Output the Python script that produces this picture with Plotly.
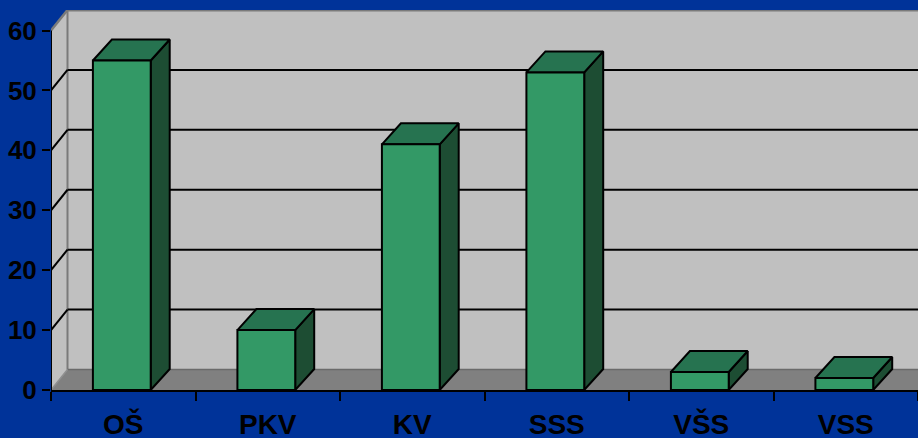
import plotly.graph_objects as go

categories = ["OŠ", "PKV", "KV", "SSS", "VŠS", "VSS"]
values = [55, 10, 41, 53, 3, 2]
y_ticks = [0, 10, 20, 30, 40, 50, 60]

# ---- geometry / style constants (pixels of the 918x438 canvas) ----
W, H = 918, 438
L, R, B, T = 51, 918, 390, 10
plot_w = R - L
plot_h = B - T
n = len(categories)
pxu = plot_w / n                      # px per x unit
WALL_DX_PX, WALL_DY_PX = 16.5, 20.5
BAR_DX_PX, BAR_DY_PX = 19.0, 21.0
YTOP = 60
YMAX = YTOP / (1 - WALL_DY_PX / plot_h)
pyu = plot_h / YMAX
wdx, wdy = WALL_DX_PX / pxu, WALL_DY_PX / pyu
bdx, bdy = BAR_DX_PX / pxu, BAR_DY_PX / pyu
BAR_OFF, BAR_W = 0.29, 0.40

BG = "#003399"
BAND = "#002e8e"
WALL = "#c0c0c0"
FLOOR = "#808080"
EDGE = "#7a7a7a"
FRONT = "#339966"
TOP = "#267350"
SIDE = "#1d4d33"
FONT = "Liberation Sans Narrow, Arial Narrow, Liberation Sans, Arial, sans-serif"

fig = go.Figure()

shapes = []
# subtle darker diagonal band at the bottom right of the slide background
shapes.append(dict(type="path", xref="paper", yref="paper",
                   path=f"M {627/W},0 L 1,{1-392/H} L 1,0 Z",
                   fillcolor=BAND, line=dict(width=0), layer="below"))

def poly(pts, fill, line_color=None, lw=0):
    d = "M " + " L ".join(f"{x},{y}" for x, y in pts) + " Z"
    shapes.append(dict(type="path", path=d, xref="x", yref="y", fillcolor=fill,
                       line=dict(color=line_color or fill, width=lw), layer="below"))
def seg(x0, y0, x1, y1, color, lw):
    shapes.append(dict(type="line", x0=x0, y0=y0, x1=x1, y1=y1, xref="x", yref="y",
                       line=dict(color=color, width=lw), layer="below"))

# walls and floor
poly([(0, 0), (wdx, wdy), (wdx, YMAX), (0, YTOP)], WALL)
poly([(wdx, wdy), (n, wdy), (n, YMAX), (wdx, YMAX)], WALL)
poly([(0, 0), (n, 0), (n, wdy), (wdx, wdy)], FLOOR)
# wall edges
seg(wdx, wdy, wdx, YMAX, EDGE, 2)
seg(wdx, YMAX, n, YMAX, EDGE, 3)
seg(0, YTOP, wdx, YMAX, EDGE, 2.5)
seg(wdx, wdy, n, wdy, "#6a6a6a", 1.5)
seg(0, 0, wdx, wdy, "#909090", 1.5)
# gridlines
for t in y_ticks[1:-1]:
    seg(0, t, wdx, t + wdy, "black", 2)
    seg(wdx, t + wdy, n, t + wdy, "black", 2)
# y axis line (front)
seg(0, 0, 0, YTOP, "black", 2)

# bars (3D faces)
for i, v in enumerate(values):
    x0 = i + BAR_OFF
    x1 = x0 + BAR_W
    faces = [
        ([x1, x1 + bdx, x1 + bdx, x1, x1], [0, bdy, v + bdy, v, 0], SIDE),
        ([x0, x1, x1 + bdx, x0 + bdx, x0], [v, v, v + bdy, v + bdy, v], TOP),
        ([x0, x1, x1, x0, x0], [0, 0, v, v, 0], FRONT),
    ]
    for xs, ys, c in faces:
        fig.add_trace(go.Scatter(x=xs, y=ys, mode="lines", fill="toself", fillcolor=c,
                                 line=dict(color="black", width=2), hoverinfo="skip",
                                 showlegend=False))

fig.update_layout(
    width=W, height=H,
    margin=dict(l=L, r=W - R, t=T, b=H - B, autoexpand=False),
    paper_bgcolor=BG, plot_bgcolor="rgba(0,0,0,0)",
    shapes=shapes,
    showlegend=False,
    xaxis=dict(range=[0, n], showgrid=False, zeroline=False, automargin=False,
               tickvals=[i + 0.5 for i in range(n)], ticktext=categories,
               ticks="", showline=True, linecolor="black", linewidth=2,
               ticklabelstandoff=8,
               tickfont=dict(family=FONT, size=28, color="black", weight="bold"),
               minor=dict(tickvals=list(range(n + 1)), ticks="outside", ticklen=9,
                          tickwidth=2, tickcolor="black", showgrid=False),
               fixedrange=True),
    yaxis=dict(range=[0, YMAX], showgrid=False, zeroline=False, automargin=False,
               tickvals=y_ticks, ticktext=[str(t) for t in y_ticks],
               ticks="outside", ticklen=8, tickwidth=2, tickcolor="black",
               showline=False, ticklabelstandoff=0,
               tickfont=dict(family=FONT, size=26, color="black", weight="bold"),
               fixedrange=True),
)

POST = (
    "document.body.style.margin='0';document.body.style.overflow='hidden';"
    "var st=document.createElement('style');"
    "st.textContent='.xtick text,.ytick text{font-stretch:condensed !important;}';"
    "document.head.appendChild(st);"
)
fig.write_html("out.html", config={"displayModeBar": False}, post_script=POST)
